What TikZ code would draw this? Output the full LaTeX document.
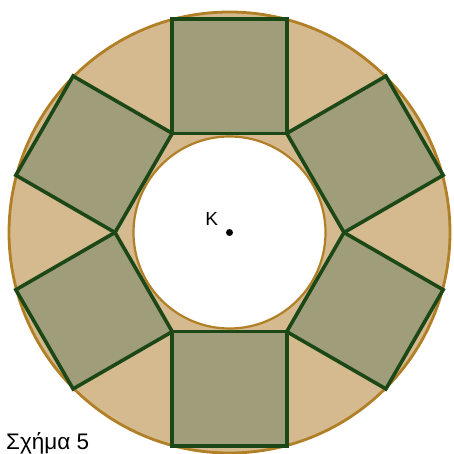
\documentclass[tikz,border=0pt]{standalone}
\usepackage{fontspec}
\setmainfont{Liberation Sans}
\definecolor{ringtan}{HTML}{D4BA8E}
\definecolor{ringgold}{HTML}{B07F26}
\definecolor{sqolive}{HTML}{A09D7A}
\definecolor{sqgreen}{HTML}{1C4818}
\usetikzlibrary{calc}

\begin{document}
\begin{tikzpicture}[x=1pt, y=1pt,
    ring/.style={draw=ringgold, line width=2.8pt, fill=ringtan},
    hole/.style={draw=ringgold, line width=2.2pt, fill=white},
    sq/.style={draw=sqgreen, line width=3.6pt, fill=sqolive, line join=miter},
    lbl/.style={inner sep=0pt, font=\fontsize{19}{21}\selectfont},
  ]
  \useasboundingbox (0,0) rectangle (454,454);
  \coordinate (K) at (229.5,221.5);
  \def\side{114.5}

  \draw[ring] (K) circle[radius=220.5];
  \draw[hole] (K) circle[radius=96];
  \foreach \a in {0,60,...,300}
    \draw[sq] ($(K)+(\a:\side)$) -- ($(K)+(\a+60:\side)$) -- ++(\a+30:\side)
      -- ($(K)+(\a:\side)+(\a+30:\side)$) -- cycle;

  \fill[black] (K) circle[radius=3.5];
  \node[lbl] (klabel) at (211.7,235) {K};
  \node[lbl, anchor=base west, font=\fontsize{22.5}{24}\selectfont] (caption) at (6,5) {Σχήμα 5};
\end{tikzpicture}
\end{document}
